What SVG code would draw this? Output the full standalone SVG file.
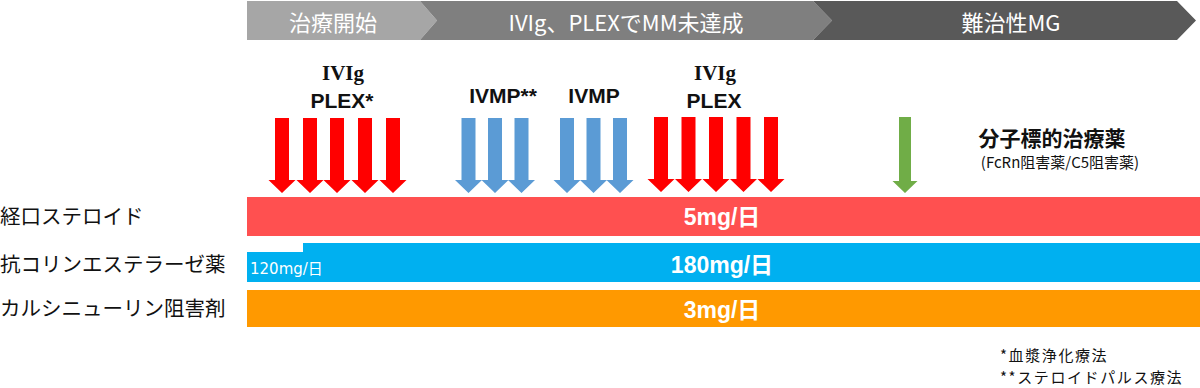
<svg xmlns="http://www.w3.org/2000/svg" xmlns:xlink="http://www.w3.org/1999/xlink" width="1200" height="388" viewBox="0 0 1200 388">
<style>
.hd{font-family:"Noto Sans CJK JP","Liberation Sans",sans-serif;font-size:22px;fill:#fff;text-anchor:middle;dominant-baseline:central}
.lab{font-family:"Noto Sans CJK JP","Liberation Sans",sans-serif;font-size:20.5px;fill:#111;dominant-baseline:central}
.tr{font-family:"Liberation Sans","Noto Sans CJK JP",sans-serif;font-size:21px;font-weight:bold;fill:#111;text-anchor:middle}
.ser{font-family:"Liberation Serif",serif;font-size:21px}
.val{font-family:"Liberation Sans","Noto Sans CJK JP",sans-serif;font-size:23px;font-weight:bold;fill:#fff;text-anchor:middle;dominant-baseline:central}
.sm{font-family:"Noto Sans CJK JP","Liberation Sans",sans-serif;font-size:15px;fill:#111;letter-spacing:1.6px}
</style>
<defs>
<path id="arr" d="M-7,0 H7 V62 H13.5 L0,75 L-13.5,62 H-7 Z"/>
<path id="garr" d="M-6,0 H6 V64 H12.5 L0,76 L-12.5,64 H-6 Z"/>
</defs>
<g id="header">
<polygon points="247,1 420,1 437,20.5 420,40 247,40" fill="#a6a6a6"/>
<polygon points="420,1 813,1 832,20.5 813,40 420,40 437,20.5" fill="#7f7f7f"/>
<polygon points="813,1 1177,1 1196,20.5 1177,40 813,40 832,20.5" fill="#595959"/>
<text class="hd" x="333" y="21">治療開始</text>
<text class="hd" x="626" y="21">IVIg、PLEXでMM未達成</text>
<text class="hd" x="1011" y="21">難治性MG</text>
</g>
<g id="treat-labels">
<text class="tr ser" x="343" y="80">IVIg</text>
<text class="tr" x="342" y="108">PLEX*</text>
<text class="tr" x="503" y="103">IVMP**</text>
<text class="tr" x="594" y="103">IVMP</text>
<text class="tr ser" x="715" y="80">IVIg</text>
<text class="tr" x="714" y="108">PLEX</text>
<text x="1052" y="146" style="font-family:'Noto Sans CJK JP',sans-serif;font-size:21px;font-weight:bold;fill:#111" text-anchor="middle">分子標的治療薬</text>
<text x="1060" y="168" style="font-family:'Noto Sans CJK JP',sans-serif;font-size:15px;fill:#111" text-anchor="middle">(FcRn阻害薬/C5阻害薬)</text>
</g>
<g id="arrows-ivig1" fill="#ff0000">
<use xlink:href="#arr" transform="translate(282,118)"/>
<use xlink:href="#arr" transform="translate(310,118)"/>
<use xlink:href="#arr" transform="translate(337,118)"/>
<use xlink:href="#arr" transform="translate(365,118)"/>
<use xlink:href="#arr" transform="translate(393,118)"/>
</g>
<g id="arrows-ivmp1" fill="#5b9bd5">
<use xlink:href="#arr" transform="translate(468.5,118)"/>
<use xlink:href="#arr" transform="translate(495,118)"/>
<use xlink:href="#arr" transform="translate(521.5,118)"/>
</g>
<g id="arrows-ivmp2" fill="#5b9bd5">
<use xlink:href="#arr" transform="translate(567,118)"/>
<use xlink:href="#arr" transform="translate(593.5,118)"/>
<use xlink:href="#arr" transform="translate(620,118)"/>
</g>
<g id="arrows-ivig2" fill="#ff0000">
<use xlink:href="#arr" transform="translate(661,117)"/>
<use xlink:href="#arr" transform="translate(688.5,117)"/>
<use xlink:href="#arr" transform="translate(716,117)"/>
<use xlink:href="#arr" transform="translate(743.5,117)"/>
<use xlink:href="#arr" transform="translate(771,117)"/>
</g>
<g id="arrow-target" fill="#70ad47">
<use xlink:href="#garr" transform="translate(905,117)"/>
</g>
<g id="steroid">
<text class="lab" x="0" y="215">経口ステロイド</text>
<rect x="247" y="197" width="953" height="39" fill="#ff5050"/>
<text class="val" x="722" y="217">5mg/日</text>
</g>
<g id="ache">
<text class="lab" x="0" y="263">抗コリンエステラーゼ薬</text>
<polygon points="247,252 303,252 303,243 1200,243 1200,282 247,282" fill="#00b0f0"/>
<text x="250" y="274" style="font-family:'DejaVu Sans','Noto Sans CJK JP',sans-serif;font-size:15px;fill:#fff">120mg/日</text>
<text class="val" x="722" y="265">180mg/日</text>
</g>
<g id="cni">
<text class="lab" x="0" y="307">カルシニューリン阻害剤</text>
<rect x="247" y="290" width="953" height="37" fill="#ff9900"/>
<text class="val" x="722" y="310">3mg/日</text>
</g>
<g id="footnotes">
<text class="sm" x="1000" y="361">*血漿浄化療法</text>
<text class="sm" x="1000" y="383">**ステロイドパルス療法</text>
</g>
</svg>
